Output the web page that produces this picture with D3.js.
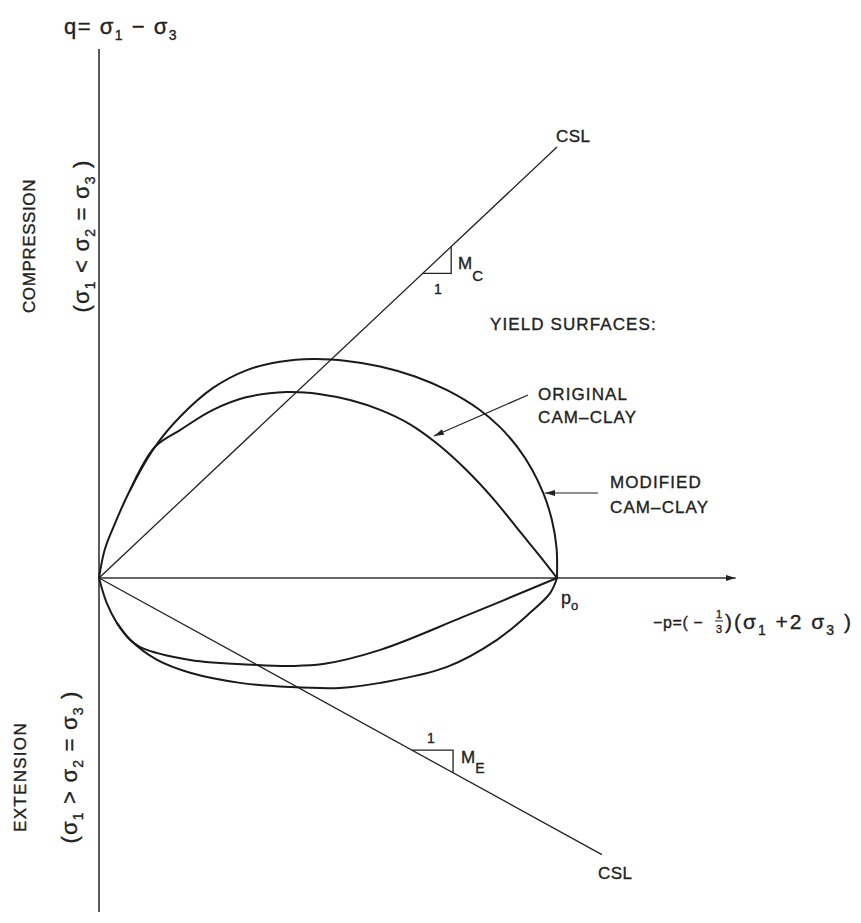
<!DOCTYPE html>
<html>
<head>
<meta charset="utf-8">
<script src="https://cdn.jsdelivr.net/npm/d3@7"></script>
<style>
  body { margin: 0; background: #fff; }
  text { font-family: "Liberation Sans", Arial, sans-serif; fill: #222; stroke: #222; stroke-width: 0.35px; }
</style>
</head>
<body>
<div id="chart"></div>
<script>
window.addEventListener("DOMContentLoaded", function() {
    // Data (p normalised so that p0 = 1, q in the same units)
    const p0 = 1;
    const mC = 0.941;
    const mE = 0.55;
    const cslCompression = [[0, 0], [1.0, 0.941]];
    const cslExtension = [[0, 0], [1.098, -0.604]];
    const modifiedUpper = [
        [0, 0], [0.012, 0.060], [0.031, 0.110], [0.068, 0.192], [0.122, 0.286],
        [0.177, 0.352], [0.249, 0.415], [0.323, 0.454], [0.395, 0.472], [0.467, 0.478],
        [0.541, 0.474], [0.614, 0.462], [0.690, 0.440], [0.760, 0.410], [0.830, 0.368],
        [0.875, 0.330], [0.914, 0.285], [0.946, 0.236], [0.971, 0.183], [0.989, 0.126],
        [0.999, 0.066], [1, 0]
    ];
    const modifiedLower = [
        [0, 0], [0.017, -0.055], [0.039, -0.098], [0.068, -0.135], [0.127, -0.179],
        [0.199, -0.207], [0.308, -0.229], [0.417, -0.238], [0.526, -0.240], [0.614, -0.229],
        [0.760, -0.194], [0.869, -0.135], [0.941, -0.076], [0.985, -0.033], [1, 0]
    ];
    const originalUpper = [
        [0.068, 0.192], [0.122, 0.286], [0.177, 0.323], [0.249, 0.367], [0.323, 0.395],
        [0.410, 0.406], [0.480, 0.402], [0.550, 0.388], [0.614, 0.367], [0.680, 0.335],
        [0.740, 0.292], [0.800, 0.238], [0.860, 0.174], [0.920, 0.100], [0.960, 0.051], [1, 0]
    ];
    const originalLower = [
        [0.039, -0.098], [0.068, -0.135], [0.090, -0.151], [0.199, -0.179], [0.345, -0.190],
        [0.417, -0.192], [0.489, -0.188], [0.614, -0.157], [0.795, -0.085], [1, 0]
    ];
    const triC = [0.707, 0.769];
    const triE = [0.683, 0.773];
    const pMax = 1.39, qMax = 1.155, qMin = -0.729;

    const width = 861, height = 923;

    const svg = d3.select('#chart')
        .append('svg')
        .attr('width', width)
        .attr('height', height);

    // Scales
    const x = d3.scaleLinear().domain([0, 1]).range([99, 557]);
    const y = d3.scaleLinear().domain([0, 1]).range([578, 120]);

    svg.append('defs').append('marker')
        .attr('id', 'arrow')
        .attr('viewBox', '0 0 10 6')
        .attr('refX', 10).attr('refY', 3)
        .attr('markerWidth', 10).attr('markerHeight', 6)
        .attr('markerUnits', 'userSpaceOnUse')
        .attr('orient', 'auto')
        .append('path')
        .attr('d', 'M0,0L10,3L0,6Z')
        .attr('fill', '#222');

    const line = d3.line().x(d => x(d[0])).y(d => y(d[1]));
    const smooth = d3.line().x(d => x(d[0])).y(d => y(d[1])).curve(d3.curveCatmullRom.alpha(0.5));

    // Axes
    svg.append('line')
        .attr('x1', x(0)).attr('x2', x(0))
        .attr('y1', y(qMax)).attr('y2', y(qMin))
        .attr('stroke', '#333').attr('stroke-width', 1.6);
    svg.append('line')
        .attr('x1', x(0)).attr('x2', x(pMax))
        .attr('y1', y(0)).attr('y2', y(0))
        .attr('stroke', '#333').attr('stroke-width', 1.4)
        .attr('marker-end', 'url(#arrow)');

    // Critical state lines
    [cslCompression, cslExtension].forEach(d => {
        svg.append('path').attr('d', line(d))
            .attr('fill', 'none').attr('stroke', '#222').attr('stroke-width', 1.3);
    });

    // Slope triangles
    svg.append('path')
        .attr('d', line([[triC[0], mC * triC[0]], [triC[1], mC * triC[0]], [triC[1], mC * triC[1]]]))
        .attr('fill', 'none').attr('stroke', '#222').attr('stroke-width', 1.3);
    svg.append('path')
        .attr('d', line([[triE[0], -mE * triE[0]], [triE[1], -mE * triE[0]], [triE[1], -mE * triE[1]]]))
        .attr('fill', 'none').attr('stroke', '#222').attr('stroke-width', 1.3);

    // Yield surfaces
    [modifiedUpper, modifiedLower, originalUpper, originalLower].forEach(d => {
        svg.append('path').attr('d', smooth(d))
            .attr('fill', 'none').attr('stroke', '#1a1a1a').attr('stroke-width', 2);
    });

    // Leaders
    svg.append('line')
        .attr('x1', 528).attr('y1', 395).attr('x2', 434).attr('y2', 436)
        .attr('stroke', '#222').attr('stroke-width', 1.2)
        .attr('marker-end', 'url(#arrow)');
    svg.append('line')
        .attr('x1', 598).attr('y1', 493).attr('x2', 545).attr('y2', 493)
        .attr('stroke', '#222').attr('stroke-width', 1.2)
        .attr('marker-end', 'url(#arrow)');

    // Texts
    const qLab = svg.append('text').attr('x', 64).attr('y', 34).style('font-size', '22px')
        .attr('letter-spacing', 1.5);
    qLab.append('tspan').text('q= σ');
    qLab.append('tspan').attr('dy', 6).style('font-size', '14px').text('1');
    qLab.append('tspan').attr('dy', -6).text('  −  σ');
    qLab.append('tspan').attr('dy', 6).style('font-size', '14px').text('3');

    function vLabel(cx, cy, size) {
        return svg.append('text')
            .attr('transform', `translate(${cx},${cy}) rotate(-90)`)
            .attr('text-anchor', 'middle')
            .style('font-size', size);
    }
    vLabel(35, 246, '17px').attr('letter-spacing', 0.6).text('COMPRESSION');
    vLabel(26, 777, '17px').attr('letter-spacing', 1.3).text('EXTENSION');

    function sigmaLabel(cx, cy, op) {
        const t = vLabel(cx, cy, '22px').attr('letter-spacing', 1.2);
        t.append('tspan').text('(σ');
        t.append('tspan').attr('dy', 6).style('font-size', '14px').text('1');
        t.append('tspan').attr('dy', -6).text(' ' + op + ' σ');
        t.append('tspan').attr('dy', 6).style('font-size', '14px').text('2');
        t.append('tspan').attr('dy', -6).text(' = σ');
        t.append('tspan').attr('dy', 6).style('font-size', '14px').text('3');
        t.append('tspan').attr('dy', -6).text(' )');
    }
    sigmaLabel(89, 236, '<');
    sigmaLabel(77, 767, '>');

    svg.append('text').attr('x', 556).attr('y', 142).style('font-size', '17px')
        .attr('letter-spacing', 0.5).text('CSL');
    svg.append('text').attr('x', 598).attr('y', 879).style('font-size', '17px')
        .attr('letter-spacing', 0.5).text('CSL');

    const mcLab = svg.append('text').attr('x', 458).attr('y', 269).style('font-size', '17px');
    mcLab.append('tspan').text('M');
    mcLab.append('tspan').attr('dy', 12).style('font-size', '15px').text('C');
    svg.append('text').attr('x', 434).attr('y', 294).style('font-size', '14px').text('1');

    const meLab = svg.append('text').attr('x', 461).attr('y', 763).style('font-size', '17px');
    meLab.append('tspan').text('M');
    meLab.append('tspan').attr('dy', 10).style('font-size', '14px').text('E');
    svg.append('text').attr('x', 427).attr('y', 743).style('font-size', '14px').text('1');

    const words = [
        { t: 'YIELD SURFACES:', x: 490, y: 330 },
        { t: 'ORIGINAL', x: 538, y: 400 },
        { t: 'CAM–CLAY', x: 538, y: 423 },
        { t: 'MODIFIED', x: 610, y: 488 },
        { t: 'CAM–CLAY', x: 610, y: 513 }
    ];
    words.forEach(w => {
        svg.append('text').attr('x', w.x).attr('y', w.y).style('font-size', '17px')
            .attr('letter-spacing', 1.1).text(w.t);
    });

    const poLab = svg.append('text').attr('x', x(p0) + 4).attr('y', 604).style('font-size', '18px');
    poLab.append('tspan').text('p');
    poLab.append('tspan').attr('dy', 6).style('font-size', '13px').text('o');

    // x-axis label
    const xl = svg.append('g');
    xl.append('text').attr('x', 653).attr('y', 628).style('font-size', '16px')
        .attr('letter-spacing', 0.6).text('−p=( −');
    xl.append('text').attr('x', 719).attr('y', 618).style('font-size', '11px')
        .attr('text-anchor', 'middle').text('1');
    xl.append('line').attr('x1', 715).attr('x2', 723).attr('y1', 621).attr('y2', 621)
        .attr('stroke', '#222').attr('stroke-width', 1);
    xl.append('text').attr('x', 719).attr('y', 633).style('font-size', '11px')
        .attr('text-anchor', 'middle').text('3');
    const xt = xl.append('text').attr('x', 725).attr('y', 629).style('font-size', '21px')
        .attr('letter-spacing', 2);
    xt.append('tspan').text(')(σ');
    xt.append('tspan').attr('dy', 6).style('font-size', '14px').text('1');
    xt.append('tspan').attr('dy', -6).text('  +2 σ');
    xt.append('tspan').attr('dy', 6).style('font-size', '14px').text('3');
    xt.append('tspan').attr('dy', -6).text(' )');
});
</script>
</body>
</html>
